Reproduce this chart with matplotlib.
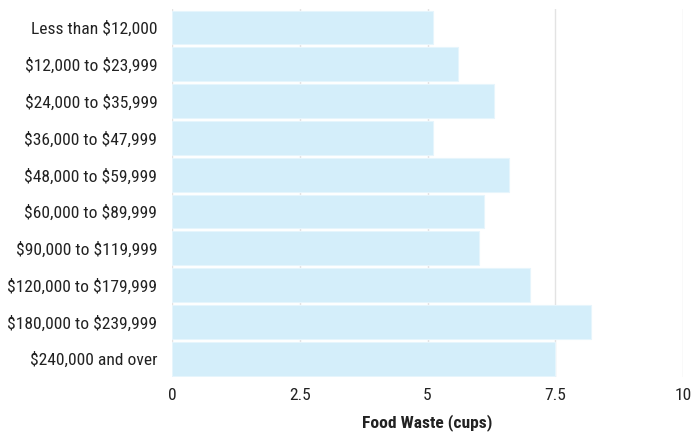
import matplotlib
matplotlib.use("Agg")
import matplotlib.pyplot as plt
from matplotlib import font_manager

categories = ["Less than $12,000", "$12,000 to $23,999", "$24,000 to $35,999",
              "$36,000 to $47,999", "$48,000 to $59,999", "$60,000 to $89,999",
              "$90,000 to $119,999", "$120,000 to $179,999", "$180,000 to $239,999",
              "$240,000 and over"]
values = [5.1, 5.6, 6.3, 5.1, 6.6, 6.1, 6.0, 7.0, 8.2, 7.5]
xticks = [0, 2.5, 5, 7.5, 10]
xtick_labels = ["0", "2.5", "5", "7.5", "10"]

plt.rcParams['text.parse_math'] = False
names = {f.name for f in font_manager.fontManager.ttflist}
fam = [f for f in ["Roboto Condensed", "Liberation Sans Narrow", "Liberation Sans", "DejaVu Sans"] if f in names]
plt.rcParams['font.family'] = fam

fig = plt.figure(figsize=(6.93, 4.36), dpi=100)
ax = fig.add_axes([0.248, 0.135, 0.738, 0.844])
y = list(range(len(categories)))
ax.barh(y, values, height=0.92, color="#d4eefa", edgecolor="#e6f5fc", linewidth=0.8, zorder=2)
ax.set_ylim(len(categories) - 0.5, -0.5)
ax.set_xlim(0, 10)
ax.set_yticks(y)
ax.set_yticklabels(categories, fontsize=12.6, color="#222222")
ax.set_xticks(xticks)
ax.set_xticklabels(xtick_labels, fontsize=12.6, color="#222222")
ax.tick_params(axis='y', length=0, pad=10.5)
ax.tick_params(axis='x', length=0, pad=8)
ax.grid(axis='x', color="#e3e3e3", linewidth=1, zorder=0)
ax.set_axisbelow(True)
for s in ax.spines.values():
    s.set_visible(False)
ax.set_xlabel("Food Waste (cups)", fontsize=12.6, fontweight='bold', color="#222222", labelpad=8)
fig.savefig("out.png", dpi=100)
